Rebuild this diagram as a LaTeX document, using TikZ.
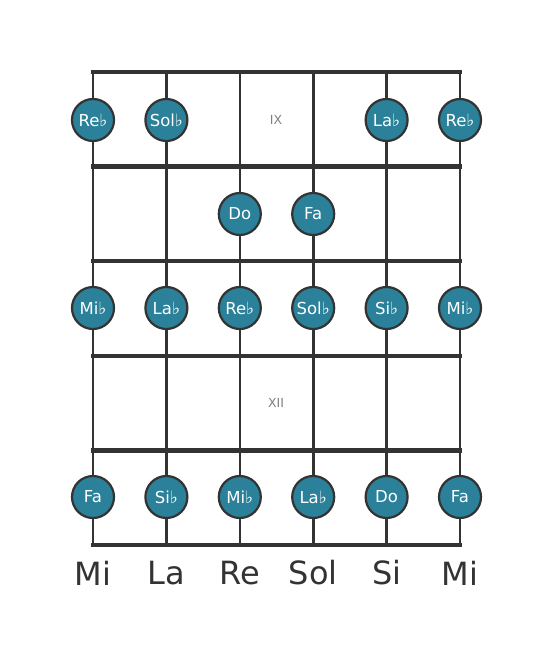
\documentclass[tikz,border=0pt]{standalone}
\usepackage{fontspec}
\setmainfont{DejaVu Sans}
\definecolor{notefill}{HTML}{2A8199}
\definecolor{fretink}{HTML}{333333}
\definecolor{romanink}{HTML}{808080}
\newcommand{\fl}{{\fontsize{17}{17}\selectfont♭}}

\tikzset{
  note/.style={circle,draw=fretink,fill=notefill,line width=2.2pt,
    minimum size=42pt,inner sep=0pt,text=white,font=\fontsize{16.5}{17}\selectfont},
  fretline/.style={draw=fretink,line width=4.5pt},
  stringline/.style={draw=fretink,line width=2.6pt},
  tuning/.style={text=fretink,font=\fontsize{32}{32}\selectfont},
  fretnum/.style={text=romanink,font=\fontsize{12.5}{13}\selectfont}
}

\begin{document}
\begin{tikzpicture}[x=1pt,y=-1pt]
  \fill[white] (0,0) rectangle (553,656);
  \useasboundingbox (0,0) rectangle (553,656);

  % strings
  \foreach \s in {0,...,5}
    \draw[stringline] (93+73.4*\s,72) -- (93+73.4*\s,545);
  % frets
  \foreach \f in {0,...,5}
    \draw[fretline,line cap=rect] (93,72+94.6*\f) -- (460,72+94.6*\f);

  % fret numbers
  \node[fretnum] (nine) at (276,120) {IX};
  \node[fretnum] (twelve) at (276,403) {XII};

  % first row
  \node[note] (a1) at (93,120) {Re\fl};
  \node[note] (a2) at (166.4,120) {Sol\fl};
  \node[note] (a5) at (386.6,120) {La\fl};
  \node[note] (a6) at (460,120) {Re\fl};
  % second row
  \node[note] (b3) at (239.8,214) {Do};
  \node[note] (b4) at (313.2,214) {Fa};
  % third row
  \node[note] (c1) at (93,308) {Mi\fl};
  \node[note] (c2) at (166.4,308) {La\fl};
  \node[note] (c3) at (239.8,308) {Re\fl};
  \node[note] (c4) at (313.2,308) {Sol\fl};
  \node[note] (c5) at (386.6,308) {Si\fl};
  \node[note] (c6) at (460,308) {Mi\fl};
  % fifth row
  \node[note] (e1) at (93,497) {Fa};
  \node[note] (e2) at (166.4,497) {Si\fl};
  \node[note] (e3) at (239.8,497) {Mi\fl};
  \node[note] (e4) at (313.2,497) {La\fl};
  \node[note] (e5) at (386.6,497) {Do};
  \node[note] (e6) at (460,497) {Fa};

  % open strings
  \node[tuning] (mi) at (93,573) {Mi};
  \node[tuning] (la) at (166.4,573) {La};
  \node[tuning] (re) at (239.8,573) {Re};
  \node[tuning] (sol) at (313.2,573) {Sol};
  \node[tuning] (si) at (386.6,573) {Si};
  \node[tuning] (mihi) at (460,573) {Mi};
\end{tikzpicture}
\end{document}
